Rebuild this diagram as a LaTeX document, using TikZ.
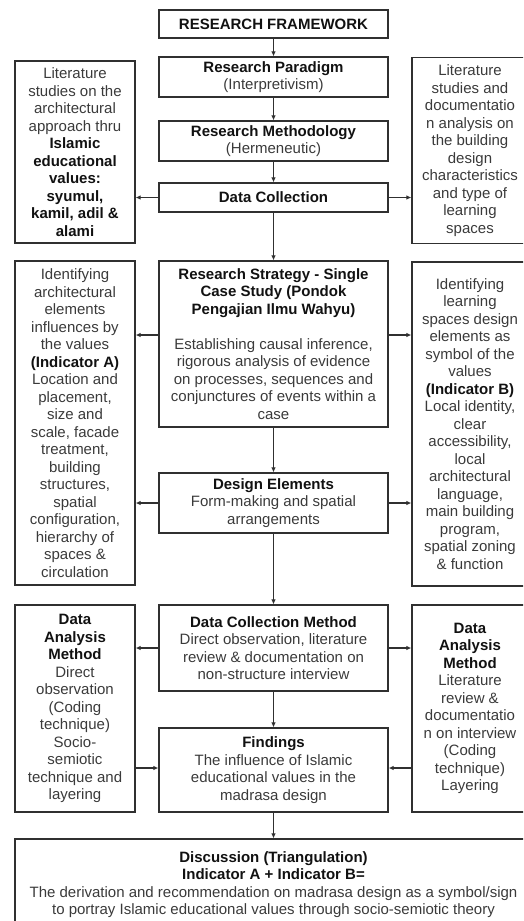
\documentclass[tikz,border=0pt]{standalone}
\usepackage{fontspec}
\setmainfont{Liberation Sans}
\usetikzlibrary{arrows.meta}
\definecolor{boxc}{HTML}{303030}
\definecolor{txtc}{HTML}{3A3A3A}
\definecolor{boldc}{HTML}{111111}
\newcommand\fsz{\fontsize{15}{17.5}\selectfont}
\newcommand\bt[1]{{\bfseries\color{boldc}#1}}
\tikzset{
  box/.style={draw=boxc, line width=1.2pt, inner sep=0pt, align=center,
    text=txtc, font=\fsz},
  conn/.style={draw=boxc, line width=1.2pt, -{Latex[length=5pt,width=4.5pt]}}
}
\begin{document}
\begin{tikzpicture}[x=1pt,y=-1pt]
\useasboundingbox (0,0) rectangle (523,921);
\clip (0,0) rectangle (523,921);
% center column
\node[box, minimum width=229, minimum height=28] (title) at (273.5,24) {\bt{RESEARCH FRAMEWORK}};
\node[box, minimum width=229, minimum height=40] (para) at (273.5,77) {\bt{Research Paradigm}\\(Interpretivism)};
\node[box, minimum width=229, minimum height=40] (meth) at (273.5,141) {\bt{Research Methodology}\\(Hermeneutic)};
\node[box, minimum width=229, minimum height=29] (dc) at (273.5,197.5) {\bt{Data Collection}};
\node[box, minimum width=229, minimum height=166] (strat) at (273.5,344) {\bt{Research Strategy - Single}\\\bt{Case Study (Pondok}\\\bt{Pengajian Ilmu Wahyu)}\\[17.5pt]Establishing causal inference,\\rigorous analysis of evidence\\on processes, sequences and\\conjunctures of events within a\\case};
\node[box, minimum width=229, minimum height=60] (design) at (273.5,503) {\bt{Design Elements}\\Form-making and spatial\\arrangements};
\node[box, minimum width=229, minimum height=86] (dcm) at (273.5,648) {\bt{Data Collection Method}\\Direct observation, literature\\review \& documentation on\\non-structure interview};
\node[box, minimum width=229, minimum height=84] (find) at (273.5,770) {\bt{Findings}\\The influence of Islamic\\educational values in the\\madrasa design};
\node[box, minimum width=517, minimum height=91] (disc) at (273.5,884.5) {\bt{Discussion (Triangulation)}\\\bt{Indicator A + Indicator B=}\\The derivation and recommendation on madrasa design as a symbol/sign\\to portray Islamic educational values through socio-semiotic theory};
% left column
\node[box, minimum width=120, minimum height=182] (l1) at (75,152) {Literature\\studies on the\\architectural\\approach thru\\\bt{Islamic}\\\bt{educational}\\\bt{values:}\\\bt{syumul,}\\\bt{kamil, adil \&}\\\bt{alami}};
\node[box, minimum width=120, minimum height=324] (l2) at (75,423) {Identifying\\architectural\\elements\\influences by\\the values\\\bt{(Indicator A)}\\Location and\\placement,\\size and\\scale, facade\\treatment,\\building\\structures,\\spatial\\configuration,\\hierarchy of\\spaces \&\\circulation};
\node[box, minimum width=120, minimum height=207] (l3) at (75,708.5) {\bt{Data}\\\bt{Analysis}\\\bt{Method}\\Direct\\observation\\(Coding\\technique)\\Socio-\\semiotic\\technique and\\layering};
% right column
\node[box, minimum width=116, minimum height=186] (r1) at (470,150.5) {Literature\\studies and\\documentatio\\n analysis on\\the building\\design\\characteristics\\and type of\\learning\\spaces};
\node[box, minimum width=116, minimum height=324] (r2) at (470,424) {Identifying\\learning\\spaces design\\elements as\\symbol of the\\values\\\bt{(Indicator B)}\\Local identity,\\clear\\accessibility,\\local\\architectural\\language,\\main building\\program,\\spatial zoning\\\& function};
\node[box, minimum width=116, minimum height=207] (r3) at (470,708.5) {\bt{Data}\\\bt{Analysis}\\\bt{Method}\\Literature\\review \&\\documentatio\\n on interview\\(Coding\\technique)\\Layering};
% vertical connectors
\draw[conn] (title) -- (para);
\draw[conn] (para) -- (meth);
\draw[conn] (meth) -- (dc);
\draw[conn] (dc) -- (strat);
\draw[conn] (strat) -- (design);
\draw[conn] (design) -- (dcm);
\draw[conn] (dcm) -- (find);
\draw[conn] (find) -- (disc);
% horizontal connectors
\draw[conn] (dc.west) -- (dc.west -| l1.east);
\draw[conn] (dc.east) -- (dc.east -| r1.west);
\draw[conn] ([yshift=9pt]strat.west) -- ([yshift=9pt]strat.west -| l2.east);
\draw[conn] ([yshift=9pt]strat.east) -- ([yshift=9pt]strat.east -| r2.west);
\draw[conn] (design.west) -- (design.west -| l2.east);
\draw[conn] (design.east) -- (design.east -| r2.west);
\draw[conn] (dcm.west) -- (dcm.west -| l3.east);
\draw[conn] (dcm.east) -- (dcm.east -| r3.west);
\draw[conn] ([yshift=2pt]find.west -| l3.east) -- ([yshift=2pt]find.west);
\draw[conn] ([yshift=2pt]find.east -| r3.west) -- ([yshift=2pt]find.east);
\end{tikzpicture}
\end{document}
